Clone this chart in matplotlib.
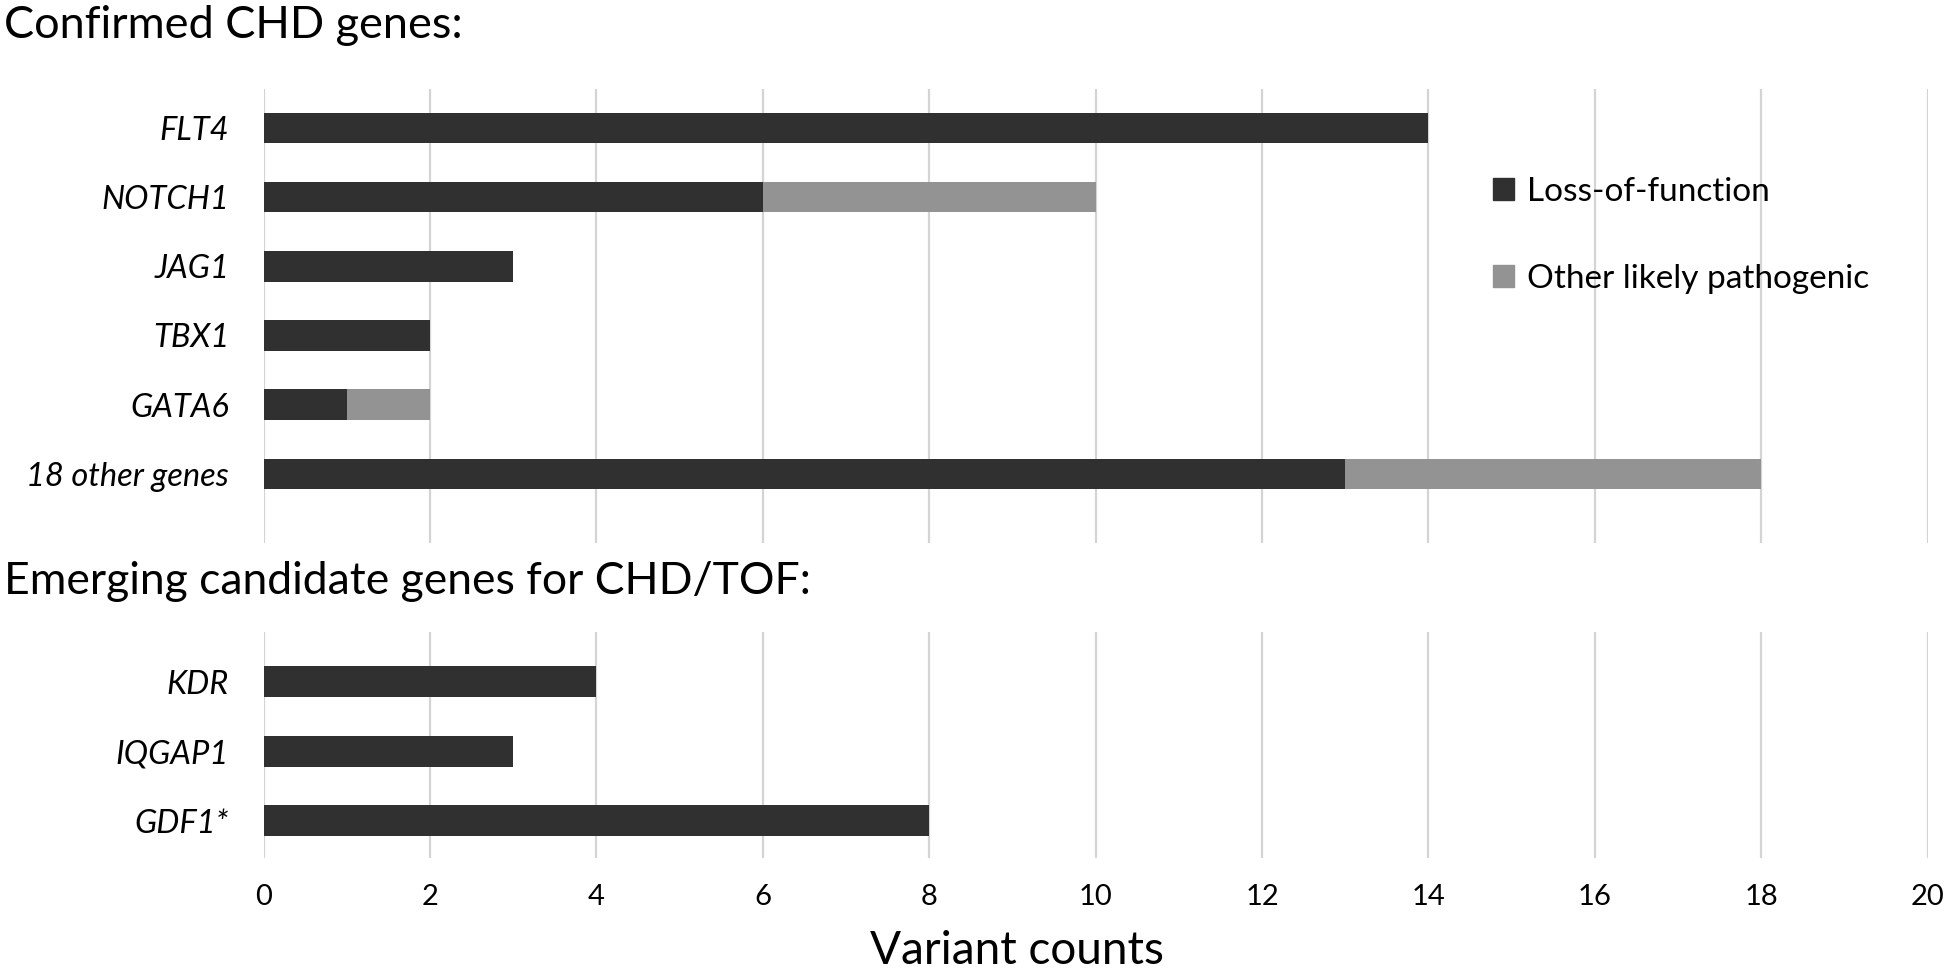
import matplotlib
matplotlib.use("Agg")
import matplotlib.pyplot as plt
from matplotlib.patches import Patch

plt.rcParams['font.family'] = ['Lato', 'DejaVu Sans']

# data
confirmed_genes = ["FLT4", "NOTCH1", "JAG1", "TBX1", "GATA6", "18 other genes"]
confirmed_lof = [14, 6, 3, 2, 1, 13]
confirmed_other = [0, 4, 0, 0, 1, 5]

emerging_genes = ["KDR", "IQGAP1", "GDF1*"]
emerging_lof = [4, 3, 8]
emerging_other = [0, 0, 0]

xticks = list(range(0, 21, 2))

dark = "#303030"
light = "#939393"
grid_col = "#d4d4d4"

W, H = 1950, 974
fig = plt.figure(figsize=(W / 100, H / 100), dpi=100)


def ax_at(x0, y0, x1, y1):
    # pixel box (top-left origin) -> figure axes
    return fig.add_axes([x0 / W, 1 - y1 / H, (x1 - x0) / W, (y1 - y0) / H])


def draw_panel(ax, genes, lof, other, ylim, show_ticks):
    ypos = list(range(len(genes)))
    ax.barh(ypos, lof, height=0.44, color=dark, zorder=3)
    ax.barh(ypos, other, left=lof, height=0.44, color=light, zorder=3)
    ax.set_xlim(0, 20)
    ax.set_ylim(*ylim)
    ax.set_xticks(xticks)
    ax.set_yticks(ypos)
    ax.set_yticklabels(genes, fontsize=23.5, style="italic")
    ax.tick_params(axis="y", length=0, pad=25)
    ax.tick_params(axis="x", length=0, pad=19, labelsize=21)
    if not show_ticks:
        ax.tick_params(axis="x", labelbottom=False)
    ax.grid(axis="x", color=grid_col, linewidth=1.6, zorder=0)
    for s in ax.spines.values():
        s.set_visible(False)


ax1 = ax_at(263.7, 89.5, 1927.6, 543)
draw_panel(ax1, confirmed_genes, confirmed_lof, confirmed_other, (6.0, -0.556), False)

ax2 = ax_at(263.7, 632, 1927.6, 858)
draw_panel(ax2, emerging_genes, emerging_lof, emerging_other, (2.535, -0.715), True)

fig.text(4 / W, 1 - 26 / H, "Confirmed CHD genes:", fontsize=32.5, va="center", ha="left")
fig.text(4 / W, 1 - 581 / H, "Emerging candidate genes for CHD/TOF:", fontsize=32,
         va="center", ha="left")
fig.text(1017 / W, 1 - 951 / H, "Variant counts", fontsize=33, va="center", ha="center")

handles = [Patch(color=dark, label="Loss-of-function"),
           Patch(color=light, label="Other likely pathogenic")]
leg = ax1.legend(handles=handles, loc="upper left", bbox_to_anchor=(1463 / W, 1 - 147 / H),
                 bbox_transform=fig.transFigure, frameon=False, fontsize=24,
                 handlelength=0.62, handleheight=0.62, handletextpad=0.4, labelspacing=1.7)
leg.set_zorder(5)

fig.savefig("out.png", dpi=100)
